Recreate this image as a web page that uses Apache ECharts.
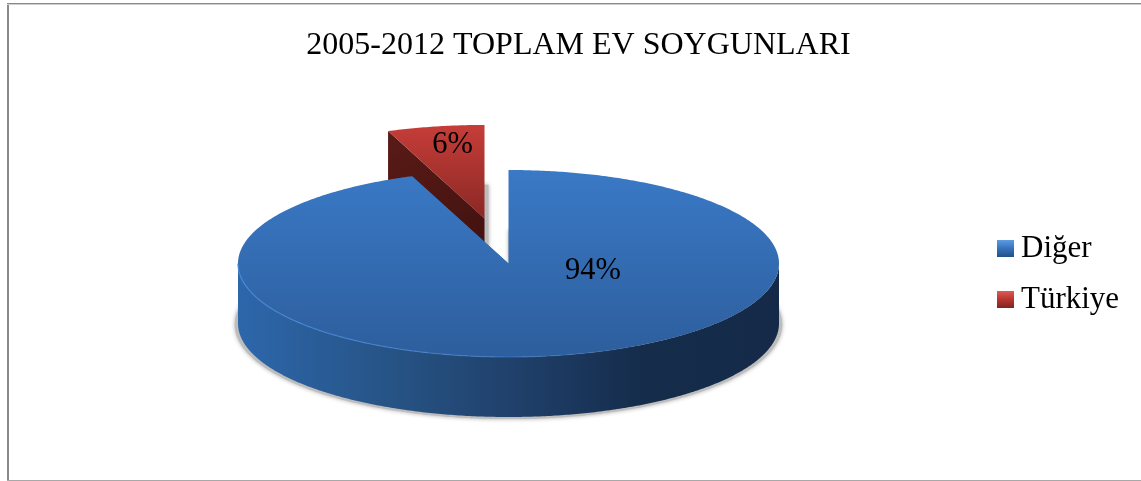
<!DOCTYPE html>
<html><head><meta charset="utf-8">
<style>html,body{margin:0;padding:0;background:#fff}#c{width:1141px;height:481px}</style>
<script src="https://cdn.jsdelivr.net/npm/echarts@6/dist/echarts.min.js"></script>
</head><body><div id="c"></div>
<script>
const titleText = '2005-2012 TOPLAM EV SOYGUNLARI';
const categories = ['Diğer', 'Türkiye'];
const shares = [94.2, 5.8];

const FONT = '"Liberation Serif","Times New Roman",serif';
const CX = 508.5, CY = 263.5, RX = 270.5, RY = 93.5, DEPTH = 60;
const styleByName = {
  'Diğer': {
    explode: 0,
    top: [[0, '#3a79c6'], [1, '#2d5e9d']],
    cut: [[0, '#2c65a8'], [1, '#2c65a8']],
    labelAt: [593, 271],
    legend: [[0, '#5c9ce2'], [0.5, '#3672bb'], [1, '#234f86']],
    shadowDx: 0
  },
  'Türkiye': {
    explode: 0.49,
    top: [[0, '#c63d39'], [1, '#8d2925']],
    cut: [[0, '#5a1b17'], [1, '#3e100e']],
    labelAt: [452.5, 145],
    legend: [[0, '#dd5a55'], [0.5, '#b8352f'], [1, '#7f2420']],
    shadowDx: 4
  }
};
const total = shares.reduce((a, b) => a + b, 0);

function grad(x, y, x2, y2, stops) {
  return { type: 'linear', x, y, x2, y2, global: true,
    colorStops: stops.map(s => ({ offset: s[0], color: s[1] })) };
}
function arc(a0, a1, ox, oy, k) {
  const pts = [], n = Math.max(2, Math.ceil(Math.abs(a1 - a0) / 0.01));
  for (let i = 0; i <= n; i++) {
    const a = a0 + (a1 - a0) * i / n;
    pts.push([ox + RX * k * Math.sin(a), oy - RY * k * Math.cos(a)]);
  }
  return pts;
}
function renderSlice(index) {
  return function (params, api) {
    const name = categories[index];
    const st = styleByName[name];
    const before = shares.slice(0, index).reduce((a, b) => a + b, 0);
    const a0 = before / total * 2 * Math.PI;
    const a1 = (before + api.value(0)) / total * 2 * Math.PI;
    const mid = (a0 + a1) / 2;
    const ox = CX + RX * st.explode * Math.sin(mid);
    const oy = CY - RY * st.explode * Math.cos(mid);
    const rim = arc(a0, a1, ox, oy, 1);
    const kids = [];

    // soft floor shadow
    kids.push({ type: 'polygon',
      shape: { points: [[ox + st.shadowDx, oy + DEPTH]].concat(arc(a0, a1, ox + st.shadowDx, oy + DEPTH + 1, 1.012)) },
      style: { fill: '#bdbdbd', shadowBlur: 4, shadowColor: 'rgba(90,90,90,0.5)' } });

    // flat cut faces
    [a0, a1].forEach(a => {
      const p = [ox + RX * Math.sin(a), oy - RY * Math.cos(a)];
      kids.push({ type: 'polygon',
        shape: { points: [[ox, oy], p, [p[0], p[1] + DEPTH], [ox, oy + DEPTH]] },
        style: { fill: grad(p[0], p[1], ox, oy + DEPTH, st.cut) } });
    });

    // curved front wall
    const f0 = Math.max(a0, Math.PI / 2), f1 = Math.min(a1, Math.PI * 1.5);
    if (f1 > f0) {
      const front = arc(f0, f1, ox, oy, 1);
      const lower = front.map(p => [p[0], p[1] + DEPTH]).reverse();
      kids.push({ type: 'polygon',
        shape: { points: front.concat(lower) },
        style: { fill: grad(ox - RX, 0, ox + RX, 0, [[0, '#2d67ab'], [0.3, '#265283'], [0.55, '#1e3d66'], [0.75, '#152c4b'], [1, '#142a48']]) } });
    }

    // top face
    kids.push({ type: 'polygon',
      shape: { points: [[ox, oy]].concat(rim) },
      style: { fill: grad(0, oy - RY, 0, oy + RY * (st.explode ? -0.05 : 1), st.top) } });

    // light rim along the front edge
    if (f1 > f0) {
      kids.push({ type: 'polyline',
        shape: { points: arc(f1, f0, ox, oy, 1) },
        style: { fill: null, lineWidth: 1.2,
          stroke: grad(ox - RX, 0, ox + RX * 0.5, 0, [[0, 'rgba(70,135,215,0.95)'], [0.7, 'rgba(70,135,215,0.5)'], [1, 'rgba(70,135,215,0)']]) } });
    }

    // percentage label
    kids.push({ type: 'text',
      style: { x: st.labelAt[0], y: st.labelAt[1], text: Math.round(api.value(0) / total * 100) + '%',
        font: '30.5px ' + FONT, fill: '#000', align: 'center', verticalAlign: 'middle' } });

    return { type: 'group', children: kids };
  };
}

// the exploded slice sits behind the main one
const order = categories.map((c, i) => i).reverse();

const option = {
  animation: false,
  backgroundColor: '#fff',
  title: { text: titleText, left: 573.5, top: 25, textAlign: 'center',
    textStyle: { fontFamily: FONT, fontSize: 32, fontWeight: 'normal', color: '#000' } },
  legend: {
    orient: 'vertical', left: 997, top: 233, padding: 0, itemWidth: 17, itemHeight: 17, itemGap: 20,
    selectedMode: false, icon: 'rect',
    textStyle: { fontFamily: FONT, fontSize: 31, color: '#000', padding: [0, 0, 0, 2] },
    data: categories.map(name => ({ name,
      itemStyle: { color: { type: 'linear', x: 0, y: 0, x2: 0, y2: 1,
        colorStops: styleByName[name].legend.map(s => ({ offset: s[0], color: s[1] })) } } }))
  },
  series: order.map(i => ({
    type: 'custom', name: categories[i], coordinateSystem: 'none',
    data: [[shares[i]]], renderItem: renderSlice(i), silent: true, clip: false,
    itemStyle: { color: styleByName[categories[i]].legend[1][1] }
  })),
  graphic: [
    { type: 'rect', shape: { x: 7, y: 3, width: 2, height: 478 }, style: { fill: '#8a8a8a' }, silent: true },
    { type: 'rect', shape: { x: 7, y: 3, width: 1134, height: 1 }, style: { fill: '#8a8a8a' }, silent: true },
    { type: 'rect', shape: { x: 7, y: 4, width: 1134, height: 1 }, style: { fill: '#cfcfcf' }, silent: true },
    { type: 'rect', shape: { x: 7, y: 480, width: 1134, height: 1 }, style: { fill: '#a8a8a8' }, silent: true }
  ]
};
echarts.init(document.getElementById('c'), null, { renderer: 'canvas' }).setOption(option);
</script></body></html>
